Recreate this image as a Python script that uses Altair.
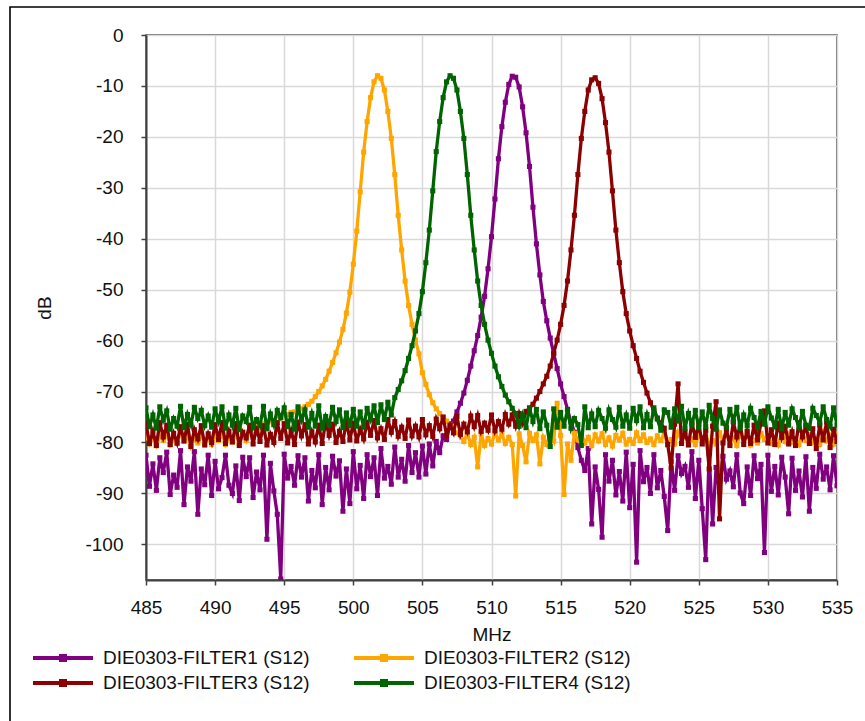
import altair as alt
import pandas as pd

# Frequency grid (MHz), 0.25 MHz steps from 485 to 535
FREQ = [485 + 0.25 * i for i in range(201)]

SERIES = ["DIE0303-FILTER1 (S12)", "DIE0303-FILTER2 (S12)",
          "DIE0303-FILTER3 (S12)", "DIE0303-FILTER4 (S12)"]
COLORS = ["#800080", "#FFA500", "#8B0000", "#006400"]

F1 = [
    -82.5, -88.6, -84.2, -89.4, -83.0, -85.9, -81.9, -90.2, -86.4, -88.8, -81.6, -92.2, -84.8, -87.6, -81.8, -94.1, -85.2, -88.3, -82.5, -90.4,
    -83.7, -89.1, -86.9, -82.5, -88.4, -90.0, -84.6, -91.4, -82.9, -86.7, -83.0, -90.8, -85.8, -89.3, -82.5, -99.0, -84.1, -89.5, -94.1, -106.8,
    -82.3, -87.0, -84.7, -88.4, -82.6, -86.8, -83.0, -91.5, -85.5, -88.9, -82.4, -92.2, -84.9, -89.3, -82.7, -86.6, -83.6, -93.5, -85.2, -92.0,
    -81.8, -89.1, -84.5, -91.0, -82.4, -86.7, -83.0, -90.4, -81.2, -87.0, -84.7, -88.2, -80.9, -86.8, -83.3, -87.6, -80.6, -85.9, -82.0, -86.8,
    -80.7, -86.2, -80.3, -84.6, -79.8, -82.0, -78.7, -79.4, -76.4, -75.8, -74.0, -72.3, -70.3, -67.8, -65.0, -62.0, -59.0, -55.4, -51.3, -45.9,
    -39.6, -32.2, -24.3, -18.0, -13.2, -9.7, -8.1, -8.3, -10.2, -14.1, -19.2, -25.8, -33.8, -41.0, -47.1, -52.3, -56.1, -59.5, -62.5, -65.5,
    -68.5, -71.0, -73.5, -76.0, -78.0, -81.0, -83.5, -85.5, -81.2, -96.0, -84.8, -89.2, -98.6, -82.4, -87.6, -83.5, -90.3, -85.7, -91.5, -81.9,
    -92.8, -84.3, -103.5, -81.6, -87.7, -84.9, -90.0, -82.4, -88.9, -85.5, -90.6, -97.3, -83.8, -89.4, -82.6, -86.1, -84.7, -88.8, -81.8, -91.0,
    -83.5, -93.0, -103.0, -82.2, -96.0, -84.9, -89.5, -82.7, -87.2, -85.6, -88.7, -82.4, -89.9, -92.0, -84.8, -90.4, -82.6, -87.1, -84.3, -101.6,
    -82.5, -89.6, -84.7, -90.3, -82.9, -86.8, -94.0, -83.1, -89.4, -85.6, -90.7, -82.8, -93.5, -84.9, -89.0, -82.3, -87.2, -84.8, -89.3, -82.6,
    -88.5,
]

F2 = [
    -78.4, -80.3, -79.2, -80.6, -78.7, -79.6, -78.3, -80.5, -79.4, -80.2, -78.1, -79.7, -78.5, -80.8, -79.3, -80.1, -78.6, -80.2, -79.2, -80.4,
    -78.5, -79.6, -78.3, -80.4, -79.1, -79.9, -78.4, -80.2, -78.0, -79.6, -77.6, -79.0, -76.9, -78.2, -76.4, -77.3, -75.5, -76.2, -74.7, -75.2,
    -74.4, -74.5, -74.1, -74.0, -73.6, -73.4, -73.0, -72.5, -71.9, -71.0, -70.0, -68.9, -67.6, -66.0, -64.3, -62.4, -60.3, -57.8, -54.6, -50.5,
    -45.0, -38.5, -30.8, -23.0, -17.0, -12.3, -9.2, -8.0, -8.5, -10.8, -15.0, -20.3, -27.4, -35.4, -42.2, -48.3, -53.1, -56.8, -59.9, -62.6,
    -66.3, -68.6, -70.6, -72.2, -73.4, -74.3, -75.1, -75.8, -76.6, -77.4, -78.1, -78.6, -79.8, -78.2, -80.4, -79.0, -84.8, -78.3, -80.6, -79.2,
    -80.3, -78.1, -79.5, -78.4, -80.2, -79.0, -80.4, -90.5, -78.3, -80.6, -83.8, -78.2, -79.6, -78.5, -84.2, -79.0, -80.4, -78.3, -79.7, -72.3,
    -78.6, -90.2, -80.3, -83.5, -78.2, -79.5, -78.4, -80.1, -79.0, -80.6, -78.5, -79.7, -78.3, -80.4, -79.1, -80.7, -78.6, -79.5, -78.2, -80.3,
    -79.4, -80.2, -78.1, -79.6, -78.5, -80.0, -79.3, -80.4, -78.7, -79.6, -78.2, -80.5, -79.4, -80.3, -78.0, -79.6, -78.6, -80.2, -79.3, -80.4,
    -78.5, -79.5, -78.2, -80.5, -79.6, -80.3, -78.1, -79.4, -78.4, -80.1, -79.2, -80.6, -78.3, -79.7, -78.0, -80.5, -79.5, -80.1, -78.2, -79.4,
    -78.6, -80.2, -79.3, -80.5, -78.1, -79.8, -78.4, -80.0, -79.2, -80.4, -78.2, -79.6, -78.5, -80.1, -79.3, -80.4, -78.0, -79.7, -78.6, -80.3,
    -78.4,
]

F3 = [
    -76.3, -80.2, -77.8, -80.6, -76.1, -78.9, -76.6, -80.4, -78.2, -80.1, -76.9, -79.7, -76.4, -80.8, -77.5, -79.3, -76.7, -80.5, -78.3, -80.0,
    -76.5, -79.4, -76.1, -80.2, -77.8, -79.9, -76.3, -80.6, -78.0, -79.1, -76.6, -80.3, -77.2, -79.8, -76.7, -80.5, -78.4, -80.0, -76.1, -79.2,
    -76.3, -80.1, -77.7, -80.4, -76.0, -78.7, -76.5, -80.3, -77.9, -79.9, -76.6, -80.2, -75.9, -78.6, -76.4, -80.0, -77.8, -79.8, -75.8, -79.5,
    -76.2, -79.7, -77.4, -79.3, -76.0, -78.6, -75.7, -79.1, -77.3, -79.4, -75.5, -78.0, -75.9, -78.8, -77.0, -79.2, -75.6, -78.7, -76.8, -78.9,
    -75.5, -78.5, -76.7, -78.8, -75.4, -77.3, -75.0, -78.6, -76.6, -78.1, -74.9, -78.4, -76.4, -77.9, -74.8, -76.9, -74.7, -77.8, -76.2, -77.6,
    -74.6, -77.7, -75.9, -77.4, -74.5, -76.4, -74.6, -76.8, -74.3, -76.2, -73.9, -73.3, -72.5, -71.3, -70.0, -68.5, -67.0, -65.0, -62.5, -59.9,
    -56.8, -53.1, -48.3, -42.2, -35.4, -27.4, -20.3, -15.0, -10.8, -8.8, -8.4, -9.5, -12.5, -17.2, -23.0, -30.6, -38.3, -44.7, -50.4, -54.7,
    -58.1, -61.0, -63.5, -66.0, -68.2, -70.3, -72.2, -73.8, -75.2, -76.3, -77.2, -80.4, -85.0, -76.4, -68.5, -80.2, -77.9, -80.5, -76.2, -79.0,
    -76.5, -80.3, -77.6, -85.2, -76.8, -72.0, -95.0, -80.1, -77.4, -80.6, -76.0, -78.9, -76.7, -80.4, -77.8, -80.2, -76.6, -79.5, -76.2, -73.8,
    -80.1, -77.5, -80.4, -76.2, -79.0, -76.8, -80.3, -77.9, -80.6, -76.1, -78.9, -76.7, -80.2, -77.3, -81.2, -76.6, -79.5, -76.0, -81.0, -77.4,
    -79.8,
]

F4 = [
    -73.2, -76.9, -74.6, -77.2, -73.0, -75.6, -73.8, -77.4, -75.3, -76.8, -72.9, -77.1, -74.5, -76.5, -73.1, -75.3, -73.7, -76.7, -74.8, -77.0,
    -73.4, -75.8, -73.0, -77.2, -74.6, -76.6, -73.3, -77.5, -74.8, -75.9, -73.1, -77.0, -75.5, -76.7, -72.9, -77.3, -74.4, -76.5, -73.7, -75.1,
    -73.2, -76.9, -74.5, -77.4, -73.0, -75.6, -73.6, -77.0, -74.3, -76.8, -72.8, -77.2, -74.9, -76.5, -73.1, -75.9, -73.6, -77.1, -74.2, -76.7,
    -73.5, -76.8, -74.0, -77.0, -73.3, -75.4, -72.8, -76.1, -72.6, -75.5, -72.1, -74.6, -71.2, -69.6, -67.9, -65.9, -63.5, -61.0, -58.1, -54.7,
    -50.4, -44.7, -38.3, -30.6, -22.9, -17.0, -12.3, -9.2, -8.0, -8.5, -10.8, -15.0, -20.3, -27.4, -35.4, -42.2, -48.3, -53.1, -56.8, -59.9,
    -62.5, -65.0, -67.1, -69.0, -70.7, -72.0, -73.3, -74.3, -76.8, -74.6, -77.1, -73.2, -75.9, -73.5, -77.3, -74.0, -76.6, -80.8, -73.4, -77.0,
    -74.1, -76.8, -73.6, -77.2, -75.3, -76.5, -80.6, -73.0, -77.1, -74.4, -76.9, -73.7, -75.3, -77.2, -73.6, -75.5, -77.0, -73.1, -76.8, -74.6,
    -77.2, -73.3, -75.7, -73.0, -77.1, -74.5, -76.9, -73.2, -75.4, -77.6, -73.6, -74.1, -77.0, -73.4, -75.8, -72.9, -77.2, -74.3, -76.5, -73.7,
    -77.1, -74.0, -76.9, -72.7, -75.3, -77.4, -73.6, -76.2, -77.0, -73.5, -75.8, -73.1, -77.2, -74.6, -76.7, -73.3, -75.1, -77.0, -73.9, -76.4,
    -73.0, -75.2, -76.8, -73.5, -77.3, -74.1, -76.6, -73.4, -75.1, -77.0, -73.9, -76.6, -77.2, -73.3, -74.7, -76.1, -73.0, -75.5, -76.8, -73.2,
    -76.6,
]

X_TICKS = list(range(485, 540, 5))
Y_TICKS = [0, -10, -20, -30, -40, -50, -60, -70, -80, -90, -100]

FONT = "Liberation Sans"
# legend glyph: a horizontal line with a small square in the middle
LEGEND_SYMBOL = "M-3,0H3M-0.2,-0.2H0.2V0.2H-0.2Z"

frames = []
for name, vals in zip(SERIES, [F1, F2, F3, F4]):
    frames.append(pd.DataFrame({"MHz": FREQ, "dB": vals, "series": name}))

color = alt.Color(
    "series:N",
    scale=alt.Scale(domain=SERIES, range=COLORS),
    legend=alt.Legend(
        title=None, orient="none", legendX=-95, legendY=611, columns=2,
        direction="horizontal",
        symbolType=LEGEND_SYMBOL, symbolSize=400, symbolStrokeWidth=4,
        symbolOpacity=1, labelFont=FONT, labelFontSize=19, labelColor="#111",
        labelOffset=28, columnPadding=36, rowPadding=3, labelLimit=400,
    ),
)

x = alt.X("MHz:Q", scale=alt.Scale(domain=[485, 535], nice=False, zero=False),
          axis=alt.Axis(values=X_TICKS, title="MHz", labelPadding=13, titlePadding=8,
                        labelFlush=False, labelExpr="'' + datum.value"))
y = alt.Y("dB:Q", scale=alt.Scale(domain=[-107, 0], nice=False, zero=False),
          axis=alt.Axis(values=Y_TICKS, title="dB", labelPadding=18, titlePadding=30,
                        labelExpr="'' + datum.value"))

layers = []
for df in frames:
    layers.append(
        alt.Chart(df).mark_line(
            strokeWidth=3.3, clip=True,
            point=alt.OverlayMarkDef(shape="square", size=26, filled=True, opacity=1, clip=True),
        ).encode(x=x, y=y, color=color, order="MHz:Q")
    )

frame = alt.Chart(pd.DataFrame({"a": [0]})).mark_rect(
    filled=False, stroke="#000000", strokeWidth=1.6, clip=False
).encode(x=alt.value(-136), y=alt.value(-28), x2=alt.value(760), y2=alt.value(720))

chart = alt.layer(frame, *layers).properties(
    width=691, height=545,
    background="white",
    autosize=alt.AutoSizeParams(type="none"),
    padding={"left": 146, "top": 35, "right": 28, "bottom": 141},
).configure_view(
    stroke="#404040", strokeWidth=1.5
).configure_axis(
    grid=True, gridColor="#d9d9d9", gridWidth=1.5,
    domainColor="#404040", domainWidth=2,
    tickColor="#404040", tickSize=5, tickWidth=1.5,
    labelFont=FONT, labelFontSize=19, labelColor="#111",
    titleFont=FONT, titleFontSize=19, titleFontWeight="normal", titleColor="#111",
)

chart.save("out.html", embed_options={"renderer": "svg", "actions": False})
